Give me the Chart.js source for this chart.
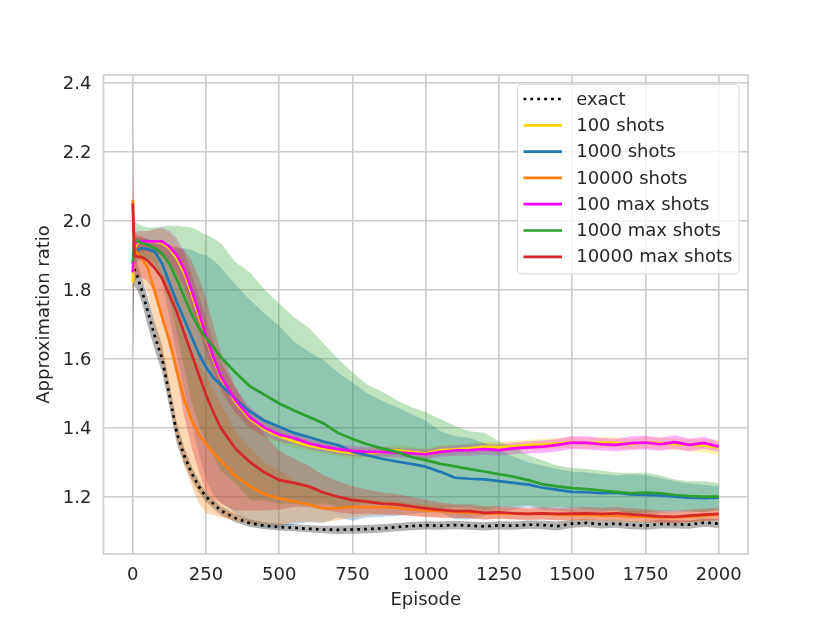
<!DOCTYPE html>
<html>
<head>
<meta charset="utf-8">
<script src="https://cdn.jsdelivr.net/npm/chart.js@4.4.1/dist/chart.umd.min.js"></script>
<style>
  html, body { margin: 0; padding: 0; background: #fff; }
</style>
</head>
<body>
<canvas id="chart" width="831" height="623"></canvas>
<script>
const episodes = [0, 5, 15, 30, 50, 75, 100, 125, 150, 175, 200, 225, 250, 275, 300,
  350, 400, 450, 500, 550, 600, 650, 700, 750, 800, 850, 900, 950, 1000, 1050, 1100, 1150, 1200,
  1250, 1300, 1350, 1400, 1450, 1500, 1550, 1600, 1650, 1700, 1750, 1800, 1850, 1900, 1950, 2000];

const seriesLabels = ['exact', '100 shots', '1000 shots', '10000 shots', '100 max shots', '1000 max shots', '10000 max shots'];

const xTicks = [0, 250, 500, 750, 1000, 1250, 1500, 1750, 2000];
const yTicks = [1.2, 1.4, 1.6, 1.8, 2.0, 2.2, 2.4];

// mean curves
const exactMean = [1.88, 1.86, 1.84, 1.80, 1.74, 1.665, 1.60, 1.495, 1.385, 1.32, 1.27, 1.23, 1.20, 1.18, 1.16,
  1.138, 1.123, 1.116, 1.112, 1.11, 1.107, 1.105, 1.104, 1.105, 1.106, 1.108, 1.112, 1.115, 1.117, 1.116, 1.118, 1.116, 1.114,
  1.117, 1.116, 1.119, 1.118, 1.115, 1.122, 1.124, 1.12, 1.122, 1.118, 1.116, 1.121, 1.12, 1.119, 1.125, 1.122];
const shots100Mean = [1.82, 1.92, 1.935, 1.94, 1.94, 1.94, 1.935, 1.92, 1.89, 1.85, 1.79, 1.725, 1.66, 1.60, 1.545,
  1.475, 1.425, 1.395, 1.375, 1.36, 1.348, 1.34, 1.332, 1.326, 1.325, 1.33, 1.335, 1.33, 1.326, 1.335, 1.337, 1.34, 1.345,
  1.343, 1.347, 1.35, 1.352, 1.355, 1.358, 1.355, 1.357, 1.356, 1.352, 1.357, 1.355, 1.352, 1.35, 1.348, 1.342];
const shots1000Mean = [1.9, 1.91, 1.915, 1.92, 1.918, 1.91, 1.875, 1.82, 1.765, 1.715, 1.665, 1.615, 1.575, 1.545, 1.525,
  1.483, 1.447, 1.42, 1.403, 1.385, 1.373, 1.36, 1.35, 1.33, 1.32, 1.31, 1.302, 1.295, 1.287, 1.272, 1.255, 1.252, 1.25,
  1.245, 1.24, 1.235, 1.226, 1.22, 1.214, 1.213, 1.21, 1.212, 1.207, 1.205, 1.204, 1.2, 1.197, 1.196, 1.197];
const shots10000Mean = [2.06, 1.92, 1.905, 1.89, 1.865, 1.795, 1.72, 1.65, 1.567, 1.482, 1.424, 1.381, 1.353, 1.327, 1.305,
  1.26, 1.23, 1.207, 1.195, 1.187, 1.178, 1.166, 1.167, 1.17, 1.17, 1.17, 1.168, 1.163, 1.16, 1.158, 1.156, 1.154, 1.152,
  1.152, 1.151, 1.15, 1.15, 1.148, 1.147, 1.147, 1.146, 1.145, 1.143, 1.142, 1.14, 1.14, 1.142, 1.145, 1.148];
const max100Mean = [1.85, 1.93, 1.94, 1.94, 1.94, 1.94, 1.94, 1.925, 1.90, 1.86, 1.80, 1.735, 1.665, 1.605, 1.55,
  1.48, 1.43, 1.40, 1.38, 1.37, 1.355, 1.345, 1.338, 1.333, 1.33, 1.33, 1.328, 1.326, 1.323, 1.33, 1.334, 1.335, 1.338,
  1.335, 1.34, 1.343, 1.345, 1.35, 1.357, 1.356, 1.352, 1.35, 1.355, 1.357, 1.352, 1.358, 1.35, 1.356, 1.345];
const max1000Mean = [1.88, 1.94, 1.942, 1.935, 1.93, 1.92, 1.905, 1.875, 1.83, 1.78, 1.73, 1.69, 1.66, 1.633, 1.605,
  1.56, 1.52, 1.495, 1.47, 1.45, 1.432, 1.413, 1.385, 1.367, 1.352, 1.34, 1.33, 1.315, 1.306, 1.295, 1.288, 1.28, 1.273,
  1.265, 1.258, 1.248, 1.236, 1.23, 1.225, 1.222, 1.218, 1.214, 1.21, 1.212, 1.21, 1.205, 1.202, 1.2, 1.2];
const max10000Mean = [2.05, 1.9, 1.895, 1.895, 1.885, 1.862, 1.833, 1.785, 1.735, 1.675, 1.615, 1.555, 1.495, 1.445, 1.40,
  1.34, 1.30, 1.27, 1.248, 1.24, 1.23, 1.212, 1.2, 1.19, 1.186, 1.18, 1.178, 1.172, 1.166, 1.162, 1.158, 1.158, 1.153,
  1.155, 1.152, 1.15, 1.152, 1.15, 1.151, 1.152, 1.15, 1.152, 1.149, 1.146, 1.143, 1.142, 1.145, 1.148, 1.15];

// half width of the shaded band round each curve
const exactStd = [0.3, 0.05, 0.04, 0.035, 0.04, 0.04, 0.04, 0.035, 0.03, 0.025, 0.02, 0.018, 0.015, 0.014, 0.013,
  0.012, 0.011, 0.01, 0.01, 0.01, 0.01, 0.011, 0.012, 0.012, 0.012, 0.012, 0.012, 0.012, 0.012, 0.012, 0.012, 0.012, 0.012,
  0.012, 0.012, 0.012, 0.012, 0.013, 0.012, 0.012, 0.012, 0.012, 0.012, 0.012, 0.013, 0.012, 0.012, 0.012, 0.013];
const shots100Std = [0.03, 0.03, 0.03, 0.03, 0.03, 0.035, 0.04, 0.045, 0.05, 0.05, 0.05, 0.05, 0.05, 0.045, 0.04,
  0.035, 0.03, 0.025, 0.02, 0.018, 0.016, 0.015, 0.015, 0.015, 0.015, 0.015, 0.015, 0.015, 0.015, 0.015, 0.015, 0.015, 0.015,
  0.015, 0.015, 0.015, 0.015, 0.015, 0.016, 0.016, 0.016, 0.016, 0.016, 0.016, 0.017, 0.017, 0.018, 0.02, 0.022];
const shots1000Std = [0.05, 0.04, 0.035, 0.03, 0.03, 0.03, 0.055, 0.1, 0.155, 0.205, 0.25, 0.29, 0.325, 0.34, 0.34,
  0.332, 0.323, 0.31, 0.292, 0.265, 0.247, 0.236, 0.21, 0.2, 0.18, 0.168, 0.158, 0.145, 0.133, 0.118, 0.12, 0.118, 0.105,
  0.09, 0.076, 0.065, 0.064, 0.06, 0.058, 0.057, 0.055, 0.05, 0.058, 0.058, 0.051, 0.045, 0.041, 0.039, 0.033];
const shots10000Std = [0.05, 0.05, 0.05, 0.06, 0.07, 0.1, 0.125, 0.16, 0.2, 0.19, 0.19, 0.2, 0.2, 0.18, 0.165,
  0.13, 0.11, 0.09, 0.08, 0.06, 0.05, 0.04, 0.035, 0.03, 0.025, 0.02, 0.02, 0.018, 0.018, 0.018, 0.017, 0.017, 0.017,
  0.016, 0.016, 0.016, 0.016, 0.016, 0.016, 0.016, 0.016, 0.016, 0.016, 0.016, 0.016, 0.016, 0.016, 0.016, 0.016];
const max100Std = [0.04, 0.03, 0.03, 0.03, 0.03, 0.035, 0.04, 0.045, 0.05, 0.05, 0.05, 0.05, 0.05, 0.045, 0.04,
  0.035, 0.03, 0.025, 0.02, 0.018, 0.016, 0.015, 0.015, 0.015, 0.014, 0.014, 0.014, 0.014, 0.014, 0.015, 0.015, 0.016, 0.016,
  0.016, 0.017, 0.018, 0.018, 0.018, 0.019, 0.019, 0.018, 0.018, 0.02, 0.02, 0.019, 0.02, 0.018, 0.018, 0.015];
const max1000Std = [0.08, 0.06, 0.05, 0.05, 0.05, 0.06, 0.078, 0.11, 0.155, 0.203, 0.25, 0.28, 0.3, 0.315, 0.33,
  0.32, 0.33, 0.305, 0.29, 0.27, 0.258, 0.232, 0.215, 0.193, 0.173, 0.165, 0.15, 0.145, 0.139, 0.13, 0.117, 0.11, 0.112,
  0.095, 0.087, 0.072, 0.069, 0.06, 0.058, 0.058, 0.057, 0.056, 0.058, 0.058, 0.052, 0.045, 0.043, 0.045, 0.04];
const max10000Std = [0.3, 0.08, 0.06, 0.06, 0.06, 0.07, 0.1, 0.14, 0.19, 0.24, 0.27, 0.28, 0.28, 0.25, 0.22,
  0.18, 0.14, 0.11, 0.085, 0.07, 0.06, 0.05, 0.045, 0.04, 0.035, 0.032, 0.03, 0.028, 0.025, 0.022, 0.02, 0.02, 0.02,
  0.018, 0.018, 0.018, 0.018, 0.018, 0.018, 0.018, 0.018, 0.018, 0.018, 0.018, 0.018, 0.018, 0.018, 0.018, 0.018];

const means = [exactMean, shots100Mean, shots1000Mean, shots10000Mean, max100Mean, max1000Mean, max10000Mean];
const stds = [exactStd, shots100Std, shots1000Std, shots10000Std, max100Std, max1000Std, max10000Std];

// styling
const lineColors = ['#000000', '#ffd700', '#1f77b4', '#ff7f0e', '#ff00ff', '#2ca02c', '#d62728'];
const bandColors = ['rgba(0,0,0,0.3)', 'rgba(255,215,0,0.3)', 'rgba(31,119,180,0.3)', 'rgba(255,127,14,0.3)',
  'rgba(255,0,255,0.3)', 'rgba(44,160,44,0.3)', 'rgba(214,39,40,0.3)'];
const dotted = [2.7, 4.2];
const textColor = '#262626';
const gridColor = '#cccccc';
const font18 = { family: 'DejaVu Sans', size: 18 };

const toPoints = (ys) => ys.map((y, i) => ({ x: episodes[i], y: y }));

const datasets = [];
seriesLabels.forEach((label, i) => {
    const lower = means[i].map((m, k) => m - stds[i][k]);
    const upper = means[i].map((m, k) => m + stds[i][k]);
    datasets.push({
        label: '_lo' + i, data: toPoints(lower), borderWidth: 0, pointRadius: 0,
        fill: false, order: 50 - i
    });
    datasets.push({
        label: '_hi' + i, data: toPoints(upper), borderWidth: 0, pointRadius: 0,
        fill: '-1', backgroundColor: bandColors[i], order: 50 - i
    });
});
seriesLabels.forEach((label, i) => {
    datasets.push({
        label: label, data: toPoints(means[i]), borderColor: lineColors[i],
        borderWidth: 2.7, pointRadius: 0, fill: false, tension: 0,
        borderDash: i === 0 ? dotted : [], borderCapStyle: 'butt', borderJoinStyle: 'round',
        order: 10 - i
    });
});

// plot frame (spines) on all four sides
const frame = {
    id: 'frame',
    afterDatasetsDraw(chart) {
        const { ctx, chartArea: a } = chart;
        ctx.save();
        ctx.strokeStyle = gridColor;
        ctx.lineWidth = 1.6;
        ctx.strokeRect(a.left, a.top, a.right - a.left, a.bottom - a.top);
        ctx.restore();
    }
};

// legend box inside the top right of the plot, like matplotlib
const insideLegend = {
    id: 'insideLegend',
    afterDraw(chart) {
        const { ctx, chartArea: a } = chart;
        const w = 221.5, h = 189.5;
        const x0 = a.right - 9 - w, y0 = a.top + 9.3;
        ctx.save();
        ctx.beginPath();
        ctx.roundRect(x0, y0, w, h, 4);
        ctx.fillStyle = 'rgba(255,255,255,0.8)';
        ctx.fill();
        ctx.strokeStyle = '#d8d8d8';
        ctx.lineWidth = 1;
        ctx.stroke();
        ctx.font = '18px "DejaVu Sans"';
        ctx.textBaseline = 'middle';
        seriesLabels.forEach((label, i) => {
            const cy = y0 + 14.7 + i * 26.3;
            ctx.beginPath();
            ctx.setLineDash(i === 0 ? dotted : []);
            ctx.strokeStyle = lineColors[i];
            ctx.lineWidth = 2.7;
            ctx.moveTo(x0 + 6, cy);
            ctx.lineTo(x0 + 44.5, cy);
            ctx.stroke();
            ctx.setLineDash([]);
            ctx.fillStyle = textColor;
            ctx.fillText(label, x0 + 58.7, cy + 1);
        });
        ctx.restore();
    }
};

new Chart(document.getElementById('chart').getContext('2d'), {
    type: 'line',
    data: { datasets: datasets },
    options: {
        responsive: false,
        animation: false,
        devicePixelRatio: 1,
        parsing: false,
        layout: { padding: { top: 75, right: 83, left: 0, bottom: 0 } },
        plugins: {
            legend: { display: false },
            tooltip: { enabled: false }
        },
        scales: {
            x: {
                type: 'linear',
                min: -100,
                max: 2100,
                afterBuildTicks: (s) => { s.ticks = xTicks.map(v => ({ value: v })); },
                afterFit: (s) => { s.height = 69; },
                grid: { color: gridColor, lineWidth: 1.6, drawTicks: false },
                border: { display: false },
                ticks: {
                    padding: 11, color: textColor, font: font18, maxRotation: 0,
                    callback: (v) => String(v)
                },
                title: {
                    display: true, text: 'Episode', color: textColor, font: font18,
                    padding: { top: 0, bottom: 12 }
                }
            },
            y: {
                type: 'linear',
                min: 1.034,
                max: 2.422,
                afterBuildTicks: (s) => { s.ticks = yTicks.map(v => ({ value: v })); },
                afterFit: (s) => { s.width = 103.5; },
                grid: { color: gridColor, lineWidth: 1.6, drawTicks: false },
                border: { display: false },
                ticks: {
                    padding: 12, color: textColor, font: font18, labelOffset: 2,
                    callback: (v) => Number(v).toFixed(1)
                },
                title: {
                    display: true, text: 'Approximation ratio', color: textColor, font: font18,
                    padding: { top: 34, bottom: 0 }
                }
            }
        }
    },
    plugins: [frame, insideLegend]
});
</script>
</body>
</html>
